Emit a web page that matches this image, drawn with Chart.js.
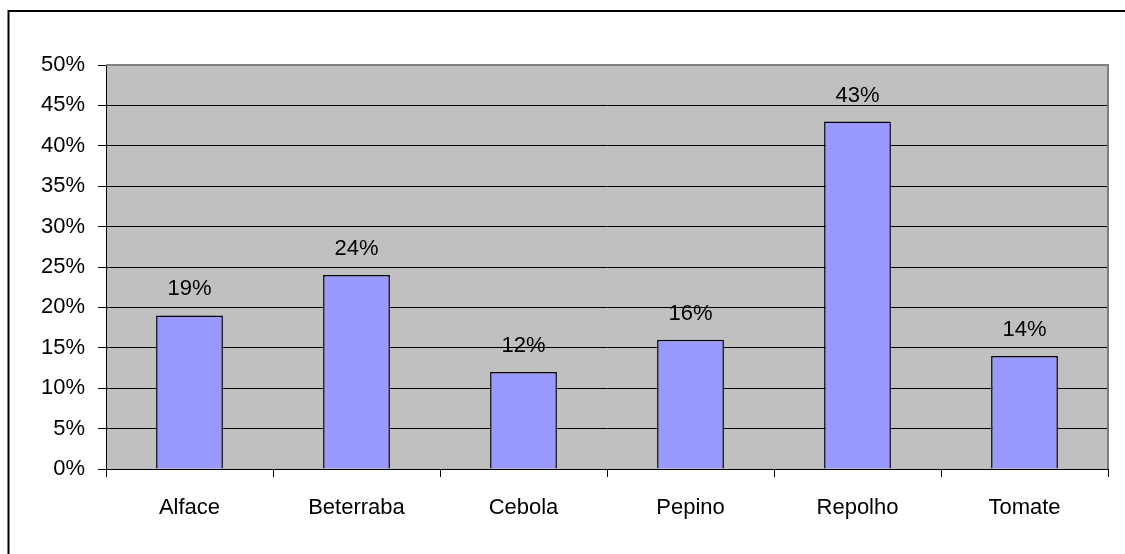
<!DOCTYPE html>
<html>
<head>
<meta charset="utf-8">
<script src="https://cdn.jsdelivr.net/npm/chart.js@4/dist/chart.umd.min.js"></script>
<style>
    body { margin: 0; background: #fff; }
    canvas { display: block; }
</style>
</head>
<body>
<canvas id="barChart" width="1125" height="554"></canvas>
<script>
// Chart data
const categories = ['Alface', 'Beterraba', 'Cebola', 'Pepino', 'Repolho', 'Tomate'];
const percentages = [19, 24, 12, 16, 43, 14];
const yTicks = [0, 5, 10, 15, 20, 25, 30, 35, 40, 45, 50];

Chart.defaults.font.family = '"Liberation Sans", Arial, sans-serif';
Chart.defaults.font.size = 22;
Chart.defaults.color = '#000';

// gray plot area, outer frame and right border of plot
const backgroundPlugin = {
    id: 'background',
    beforeDraw(chart) {
        const c = chart.ctx;
        const a = chart.chartArea;
        c.save();
        c.fillStyle = '#fff';
        c.fillRect(0, 0, chart.width, chart.height);
        c.lineWidth = 2;
        c.strokeStyle = '#000';
        c.strokeRect(8.5, 11, chart.width + 20, chart.height + 20);
        c.fillStyle = '#C0C0C0';
        c.fillRect(a.left, a.top, a.right - a.left, a.bottom - a.top);
        c.restore();
    },
    afterDraw(chart) {
        const c = chart.ctx;
        const a = chart.chartArea;
        c.save();
        c.strokeStyle = '#808080';
        c.lineWidth = 2;
        c.beginPath();
        c.moveTo(a.left, a.top);
        c.lineTo(a.right, a.top);
        c.lineTo(a.right, a.bottom);
        c.stroke();
        c.restore();
    }
};

// value labels above the bars
const valueLabels = {
    id: 'valueLabels',
    afterDatasetsDraw(chart) {
        const c = chart.ctx;
        const meta = chart.getDatasetMeta(0);
        c.save();
        c.font = '22px "Liberation Sans", Arial, sans-serif';
        c.fillStyle = '#000';
        c.textAlign = 'center';
        c.textBaseline = 'alphabetic';
        meta.data.forEach((bar, i) => {
            c.fillText(percentages[i] + '%', bar.x, bar.y - 20);
        });
        c.restore();
    }
};

const ctxBar = document.getElementById('barChart').getContext('2d');
new Chart(ctxBar, {
    type: 'bar',
    data: {
        labels: categories,
        datasets: [{
            data: percentages,
            backgroundColor: '#9999FF',
            borderColor: '#000',
            borderWidth: 1.5,
            barPercentage: 0.4,
            categoryPercentage: 1
        }]
    },
    options: {
        responsive: false,
        animation: false,
        layout: {
            padding: { left: 0, top: 65, right: 17, bottom: 0 }
        },
        plugins: {
            legend: { display: false },
            tooltip: { enabled: false }
        },
        scales: {
            x: {
                grid: {
                    offset: true,
                    drawOnChartArea: false,
                    drawTicks: true,
                    tickLength: 8,
                    color: '#000',
                    lineWidth: 1
                },
                border: { color: '#000', width: 1 },
                ticks: { padding: 18, maxRotation: 0 },
                afterFit(scale) { scale.height = 85; }
            },
            y: {
                min: 0,
                max: 50,
                afterBuildTicks(scale) {
                    scale.ticks = yTicks.map(v => ({ value: v }));
                },
                grid: {
                    color: (c) => c.tick && c.tick.value === 50 ? '#808080' : '#000',
                    tickColor: '#000',
                    tickLength: 8,
                    lineWidth: 1
                },
                border: { color: '#000', width: 1 },
                ticks: {
                    padding: 13,
                    callback: (v) => v + '%'
                },
                afterFit(scale) { scale.width = 106; }
            }
        }
    },
    plugins: [backgroundPlugin, valueLabels]
});
</script>
</body>
</html>
